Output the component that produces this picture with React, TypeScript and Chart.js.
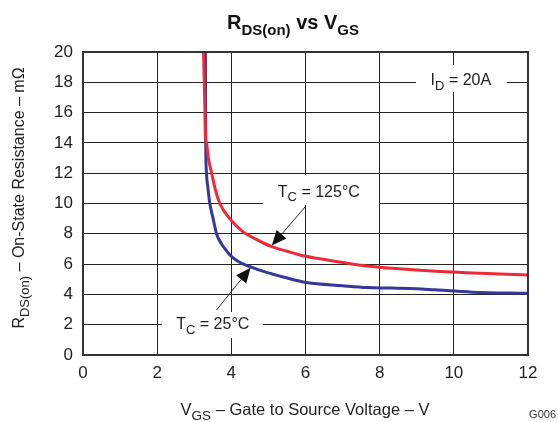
import React, { useEffect, useRef } from "react";
import { Chart, registerables } from "chart.js";

Chart.register(...registerables);

// Data
const vgs25 = [3.3, 3.31, 3.33, 3.37, 3.42, 3.51, 3.6, 3.72, 3.83, 3.96, 4.2, 4.5, 4.95, 5.4, 6.03, 7.0, 7.65, 8.3, 9.0, 9.5, 10.5, 12.0];
const rds25 = [20, 14, 12, 11, 10, 9, 8, 7.4, 7.0, 6.6, 6.15, 5.83, 5.45, 5.15, 4.78, 4.57, 4.45, 4.42, 4.38, 4.3, 4.15, 4.07];

const vgs125 = [3.25, 3.28, 3.3, 3.33, 3.38, 3.47, 3.56, 3.69, 3.96, 4.31, 4.7, 5.09, 5.5, 5.85, 6.3, 7.0, 7.65, 9.0, 10.34, 12.0];
const rds125 = [20, 17, 14.5, 14, 13, 12, 11, 10, 9, 8.14, 7.6, 7.15, 6.85, 6.6, 6.38, 6.1, 5.87, 5.61, 5.43, 5.28];

const xMin = 0, xMax = 12, xStep = 2;
const yMin = 0, yMax = 20, yStep = 2;

type Part = { t: string; sub?: boolean };

const titleParts: Part[] = [{ t: "R" }, { t: "DS(on)", sub: true }, { t: " vs V" }, { t: "GS", sub: true }];
const xTitleParts: Part[] = [{ t: "V" }, { t: "GS", sub: true }, { t: " \u2013 Gate to Source Voltage \u2013 V" }];
const yTitleParts: Part[] = [{ t: "R" }, { t: "DS(on)", sub: true }, { t: " \u2013 On-State Resistance \u2013 m\u03A9" }];

// annotation labels (data coordinates)
const labels = [
  { parts: [{ t: "I" }, { t: "D", sub: true }, { t: " = 20A" }] as Part[], x: 10.19, y: 18.2, box: [8.98, 19.14, 11.43, 17.36] },
  { parts: [{ t: "T" }, { t: "C", sub: true }, { t: " = 125\u00B0C" }] as Part[], x: 6.36, y: 10.83, box: [4.85, 11.88, 7.98, 9.9] },
  { parts: [{ t: "T" }, { t: "C", sub: true }, { t: " = 25\u00B0C" }] as Part[], x: 3.5, y: 2.08, box: [2.13, 2.84, 4.85, 1.12] },
];
const arrows = [
  { from: [5.99, 9.77], to: [5.09, 7.22] },
  { from: [3.6, 2.97], to: [4.52, 5.76] },
];

const FONT = "'Liberation Sans', Arial, sans-serif";

function richWidth(ctx: CanvasRenderingContext2D, parts: Part[], size: number, subSize: number, bold: boolean) {
  let w = 0;
  for (const p of parts) {
    ctx.font = `${bold ? "bold " : ""}${p.sub ? subSize : size}px ${FONT}`;
    w += ctx.measureText(p.t).width;
  }
  return w;
}

function drawRich(ctx: CanvasRenderingContext2D, parts: Part[], cx: number, cy: number, size: number, subSize: number, bold: boolean, color: string) {
  const w = richWidth(ctx, parts, size, subSize, bold);
  let x = cx - w / 2;
  ctx.fillStyle = color;
  ctx.textBaseline = "alphabetic";
  ctx.textAlign = "left";
  const base = cy + size * 0.36;
  for (const p of parts) {
    ctx.font = `${bold ? "bold " : ""}${p.sub ? subSize : size}px ${FONT}`;
    ctx.fillText(p.t, x, p.sub ? base + size * 0.3 : base);
    x += ctx.measureText(p.t).width;
  }
}

const decorPlugin = {
  id: "decor",
  beforeDatasetsDraw(chart: any) {
    const ctx = chart.ctx as CanvasRenderingContext2D;
    const xs = chart.scales.x, ys = chart.scales.y;
    ctx.save();
    ctx.fillStyle = "#ffffff";
    for (const l of labels) {
      const x1 = xs.getPixelForValue(l.box[0]);
      const y1 = ys.getPixelForValue(l.box[1]);
      const x2 = xs.getPixelForValue(l.box[2]);
      const y2 = ys.getPixelForValue(l.box[3]);
      ctx.fillRect(x1, y1, x2 - x1, y2 - y1);
    }
    for (const l of labels) {
      drawRich(ctx, l.parts, xs.getPixelForValue(l.x), ys.getPixelForValue(l.y), 16, 13, false, "#222");
    }
    ctx.restore();
  },
  afterDatasetsDraw(chart: any) {
    const ctx = chart.ctx as CanvasRenderingContext2D;
    const xs = chart.scales.x, ys = chart.scales.y;
    const a = chart.chartArea;
    ctx.save();
    // frame
    ctx.strokeStyle = "#333";
    ctx.lineWidth = 2;
    ctx.strokeRect(a.left, a.top, a.right - a.left, a.bottom - a.top);
    // arrows
    for (const ar of arrows) {
      const x0 = xs.getPixelForValue(ar.from[0]), y0 = ys.getPixelForValue(ar.from[1]);
      const x1 = xs.getPixelForValue(ar.to[0]), y1 = ys.getPixelForValue(ar.to[1]);
      const ang = Math.atan2(y1 - y0, x1 - x0);
      const hl = 15, hw = 6.5;
      const bx = x1 - hl * Math.cos(ang), by = y1 - hl * Math.sin(ang);
      ctx.strokeStyle = "#222";
      ctx.lineWidth = 1;
      ctx.beginPath();
      ctx.moveTo(x0, y0);
      ctx.lineTo(bx, by);
      ctx.stroke();
      ctx.fillStyle = "#111";
      ctx.beginPath();
      ctx.moveTo(x1, y1);
      ctx.lineTo(bx + hw * Math.sin(ang), by - hw * Math.cos(ang));
      ctx.lineTo(bx - hw * Math.sin(ang), by + hw * Math.cos(ang));
      ctx.closePath();
      ctx.fill();
    }
    ctx.restore();
  },
  afterDraw(chart: any) {
    const ctx = chart.ctx as CanvasRenderingContext2D;
    ctx.save();
    drawRich(ctx, titleParts, 293, 22, 20, 15, true, "#111");
    drawRich(ctx, xTitleParts, 305, 409, 16.5, 13.5, false, "#222");
    ctx.translate(18, 198);
    ctx.rotate(-Math.PI / 2);
    drawRich(ctx, yTitleParts, 0, 0, 16, 13, false, "#222");
    ctx.restore();
    ctx.save();
    ctx.font = `11px ${FONT}`;
    ctx.fillStyle = "#333";
    ctx.textAlign = "right";
    ctx.textBaseline = "middle";
    ctx.fillText("G006", 556, 415);
    ctx.restore();
  },
};

export default function App() {
  const ref = useRef<HTMLCanvasElement>(null);
  useEffect(() => {
    if (!ref.current) return;
    const chart = new Chart(ref.current, {
      type: "line",
      data: {
        datasets: [
          {
            label: "TC = 125°C",
            data: vgs125.map((x, i) => ({ x, y: rds125[i] })),
            borderColor: "#ee2a36",
            borderWidth: 3,
            pointRadius: 0,
            cubicInterpolationMode: "monotone",
            fill: false,
          },
          {
            label: "TC = 25°C",
            data: vgs25.map((x, i) => ({ x, y: rds25[i] })),
            borderColor: "#35379a",
            borderWidth: 3,
            pointRadius: 0,
            cubicInterpolationMode: "monotone",
            fill: false,
          },
        ],
      },
      options: {
        responsive: false,
        animation: false,
        layout: { padding: { left: 0, top: 52, right: 30, bottom: 0 } },
        plugins: { legend: { display: false }, tooltip: { enabled: false }, title: { display: false } },
        scales: {
          x: {
            type: "linear",
            min: xMin,
            max: xMax,
            ticks: { stepSize: xStep, padding: 8, color: "#222", font: { family: FONT, size: 17 } },
            grid: { color: "#222", lineWidth: 1, drawTicks: false },
            border: { color: "#333", width: 2 },
            afterFit: (s: any) => { s.height = 67; },
          },
          y: {
            type: "linear",
            min: yMin,
            max: yMax,
            ticks: { stepSize: yStep, padding: 10, color: "#222", font: { family: FONT, size: 17 } },
            grid: { color: "#222", lineWidth: 1, drawTicks: false },
            border: { color: "#333", width: 2 },
            afterFit: (s: any) => { s.width = 83; },
          },
        },
      },
      plugins: [decorPlugin],
    } as any);
    return () => chart.destroy();
  }, []);
  return (
    <div style={{ position: "absolute", left: 0, top: 0, width: 558, height: 422, background: "#fff" }}>
      <canvas ref={ref} width={558} height={422} />
    </div>
  );
}
